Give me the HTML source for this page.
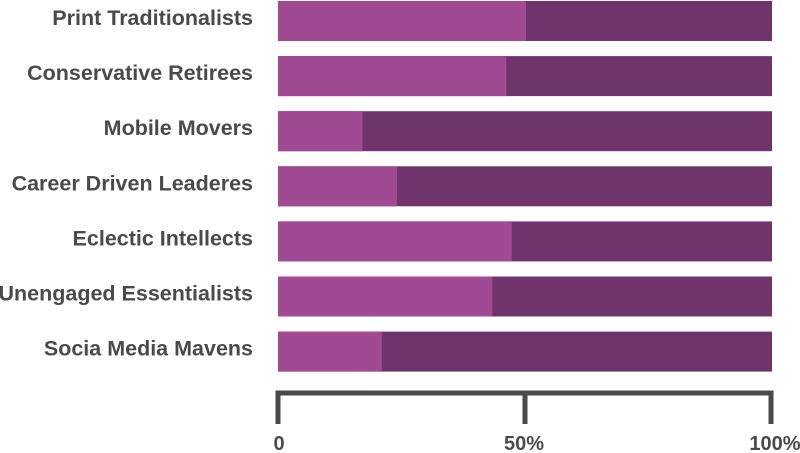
<!DOCTYPE html>
<html><head><meta charset="utf-8"><style>
body{margin:0;background:#fff;}
svg{display:block;font-family:"Liberation Sans",sans-serif;font-weight:bold;}
</style></head><body>
<svg id="chart" width="800" height="453"></svg>
<script>
const categories=["Print Traditionalists","Conservative Retirees","Mobile Movers","Career Driven Leaderes","Eclectic Intellects","Unengaged Essentialists","Socia Media Mavens"];
const values=[50.2,46.2,17.1,24.1,47.3,43.4,21.0];
const tickValues=[0,50,100];
const tickLabels=["0","50%","100%"];
const NS="http://www.w3.org/2000/svg";
const svg=document.getElementById('chart');
const x0=278,x1=772;
const xs=v=>x0+(x1-x0)*v/100;
const rowTop=i=>1+i*55.1;
const barH=40;
function el(t,a){const e=document.createElementNS(NS,t);for(const k in a)e.setAttribute(k,a[k]);svg.appendChild(e);return e;}
categories.forEach((c,i)=>{
  const y=rowTop(i);
  const bg=el('rect',{x:xs(0),y:y,width:xs(100)-xs(0),height:barH,fill:'#70346c'});
  
  
  const b=el('rect',{x:xs(0),y:y,width:xs(values[i])-xs(0),height:barH,fill:'#a04a94'});
  
  
  const t=el('text',{x:253,y:y+barH/2+4,'text-anchor':'end','font-size':21.5,fill:'#4a4a4a'});
  t.textContent=c;
  
  
});
const ax=el('path',{d:`M${xs(0)} 424V393H${xs(100)-1}V424`,stroke:'#4a4a4a','stroke-width':5,fill:'none'});


tickValues.forEach((v,i)=>{
  const x=v===100?xs(v)-1:xs(v);
  const tk=el('line',{x1:x,x2:x,y1:393,y2:424,stroke:'#4a4a4a','stroke-width':5});
  
  
  const t=el('text',{x:x-1,y:450,'text-anchor':'middle','font-size':20,fill:'#4a4a4a'});
  if(i===0)t.setAttribute('x',x+1);
  if(i===tickValues.length-1){t.setAttribute('x',x+4);}
  t.textContent=tickLabels[i];
  
  
});
</script>
</body></html>
